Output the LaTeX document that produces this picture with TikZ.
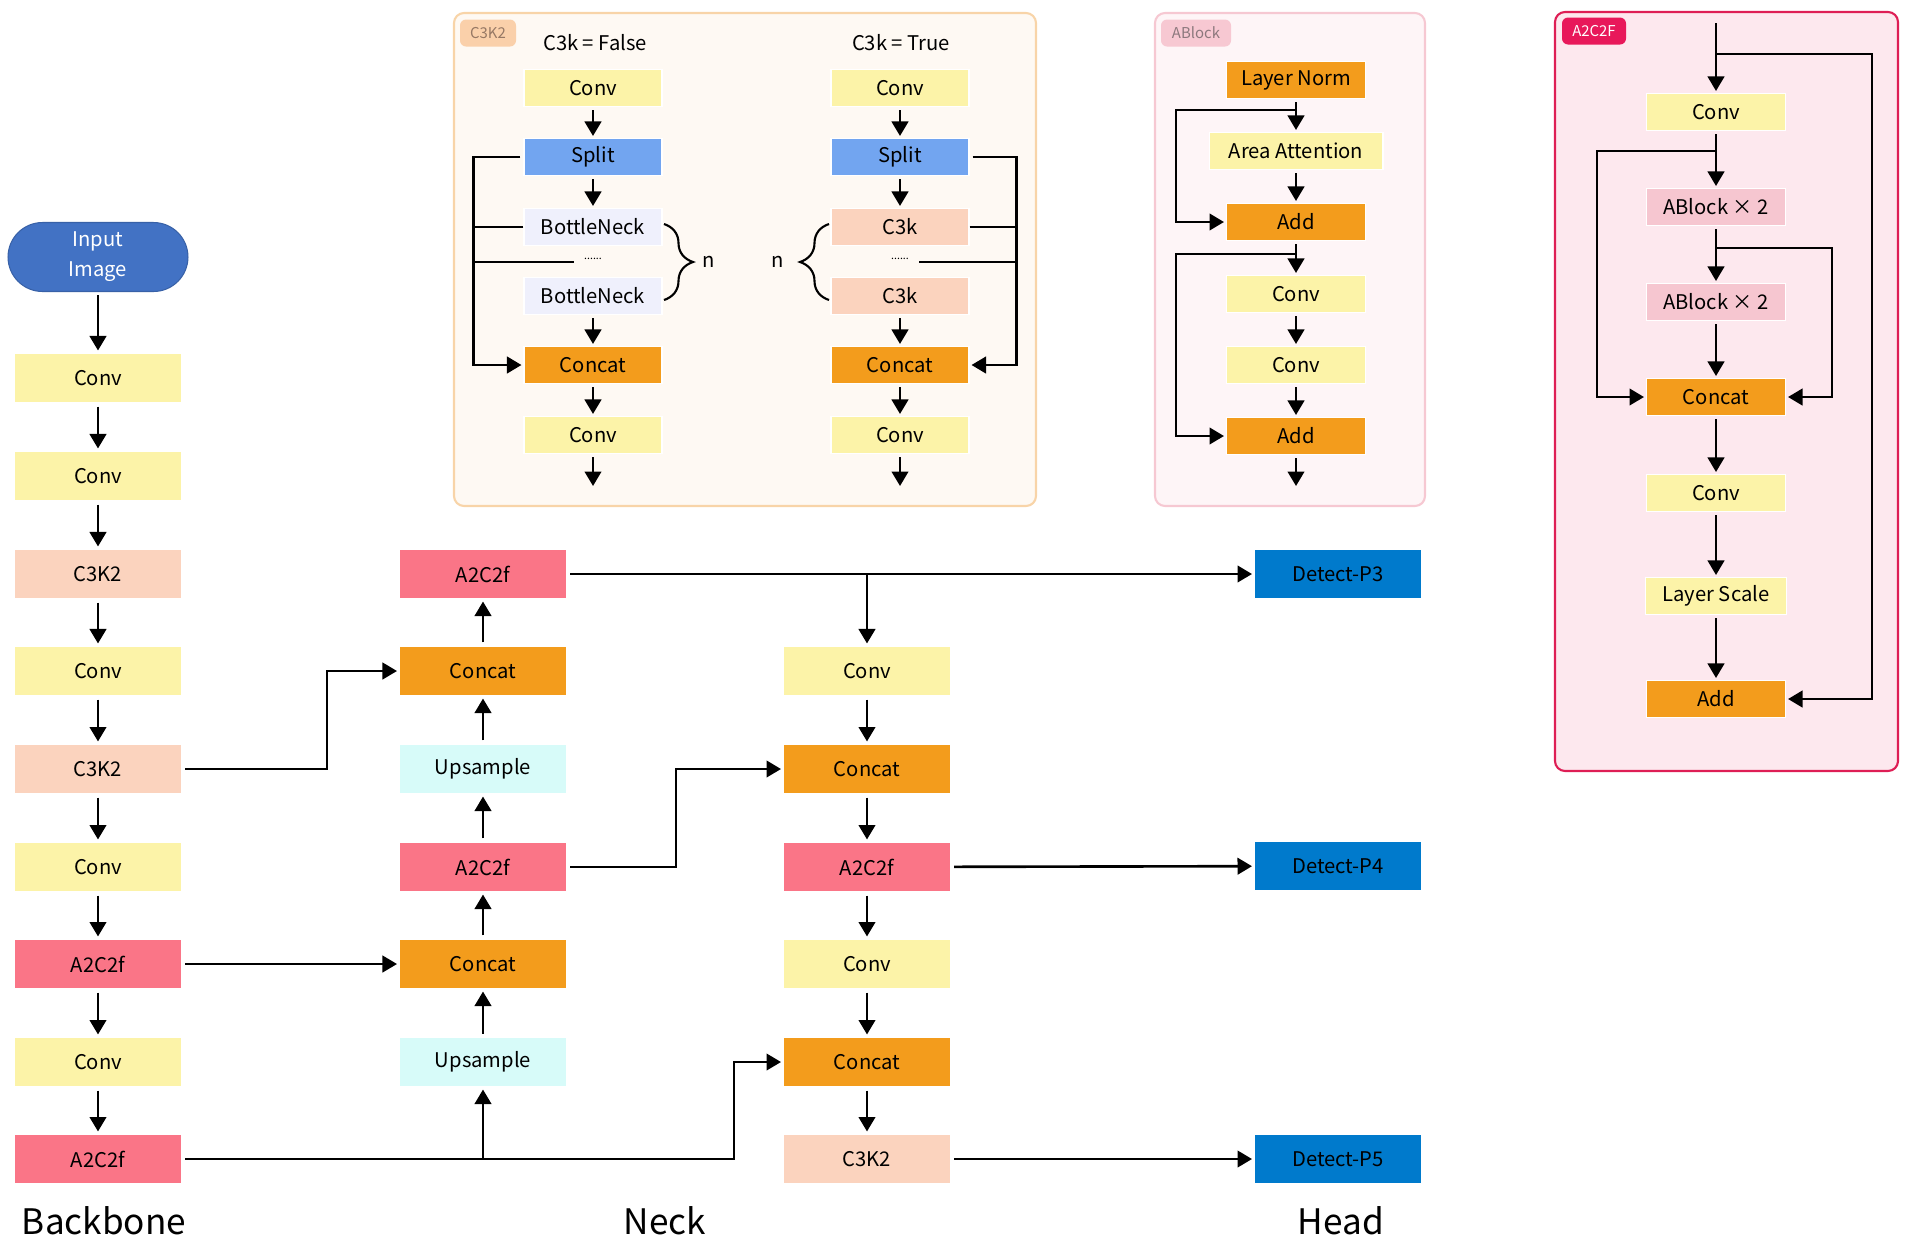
\documentclass[tikz,border=0pt]{standalone}
\usepackage{fontspec}
\setmainfont{Noto Sans CJK SC}
\usetikzlibrary{arrows.meta, positioning, decorations.pathreplacing}

\definecolor{inpc}{RGB}{66,114,196}
\definecolor{convc}{RGB}{252,243,168}
\definecolor{c3kc}{RGB}{251,211,190}
\definecolor{a2cc}{RGB}{250,117,135}
\definecolor{catc}{RGB}{243,156,28}
\definecolor{upc}{RGB}{215,251,249}
\definecolor{detc}{RGB}{0,122,204}
\definecolor{splc}{RGB}{114,165,240}
\definecolor{bnc}{RGB}{239,240,252}
\definecolor{abc}{RGB}{246,198,208}
\definecolor{c3kbg}{RGB}{254,249,243}
\definecolor{c3kline}{RGB}{248,212,168}
\definecolor{c3ktag}{RGB}{250,208,170}
\definecolor{c3ktagtext}{RGB}{150,120,100}
\definecolor{abbg}{RGB}{254,245,247}
\definecolor{abline}{RGB}{246,200,210}
\definecolor{abtag}{RGB}{247,200,210}
\definecolor{abtagtext}{RGB}{140,120,125}
\definecolor{a2bg}{RGB}{253,232,238}
\definecolor{a2line}{RGB}{222,30,85}
\definecolor{a2tag}{RGB}{232,24,90}

\tikzset{
    box/.style={minimum width=3.34cm, minimum height=1cm, inner sep=0pt, draw=white, line width=0.6pt, font=\fontsize{11.5}{13}\selectfont},
    sbox/.style={box, minimum width=2.76cm, minimum height=0.74cm},
    conv/.style={fill=convc}, c3k/.style={fill=c3kc}, a2c/.style={fill=a2cc},
    cat/.style={fill=catc}, ups/.style={fill=upc}, det/.style={fill=detc},
    spl/.style={fill=splc}, bneck/.style={fill=bnc}, ablk/.style={fill=abc},
    arr/.style={-{Triangle[length=0.29cm,width=0.33cm]}, line width=1.5pt, shorten <=0.06cm, shorten >=0.04cm},
    wire/.style={line width=1.5pt},
    panel/.style={rounded corners=0.2cm, line width=1.2pt},
    tag/.style={rounded corners=0.12cm, inner sep=0pt, minimum height=0.54cm, font=\fontsize{8.5}{10}\selectfont},
    title/.style={font=\fontsize{11.5}{13}\selectfont},
    stage/.style={font=\fontsize{20}{24}\selectfont}
}

\begin{document}
\begin{tikzpicture}[x=0.02cm, y=-0.02cm]
    \useasboundingbox (0,0) rectangle (1920,1259);

    % Backbone
    \node[box, rounded corners=0.69cm, minimum width=3.6cm, minimum height=1.38cm, fill=inpc, draw=inpc!85!black, text=white, align=center, font=\fontsize{11.5}{17}\selectfont] (inp) at (98,257) {Input\\Image};
    \node[box, conv] (b1) at (98,378) {Conv};
    \node[box, conv] (b2) at (98,476) {Conv};
    \node[box, c3k] (b3) at (98,574) {C3K2};
    \node[box, conv] (b4) at (98,671) {Conv};
    \node[box, c3k] (b5) at (98,769) {C3K2};
    \node[box, conv] (b6) at (98,867) {Conv};
    \node[box, a2c] (b7) at (98,964) {A2C2f};
    \node[box, conv] (b8) at (98,1062) {Conv};
    \node[box, a2c] (b9) at (98,1159) {A2C2f};

    \draw[arr] (inp) -- (b1);
    \draw[arr] (b1) -- (b2);
    \draw[arr] (b2) -- (b3);
    \draw[arr] (b3) -- (b4);
    \draw[arr] (b4) -- (b5);
    \draw[arr] (b5) -- (b6);
    \draw[arr] (b6) -- (b7);
    \draw[arr] (b7) -- (b8);
    \draw[arr] (b8) -- (b9);

    % Neck, upward path
    \node[box, a2c] (n1a) at (483,574) {A2C2f};
    \node[box, cat] (n1b) at (483,671) {Concat};
    \node[box, ups] (n1c) at (483,769) {Upsample};
    \node[box, a2c] (n1d) at (483,867) {A2C2f};
    \node[box, cat] (n1e) at (483,964) {Concat};
    \node[box, ups] (n1f) at (483,1062) {Upsample};

    % Neck, downward path
    \node[box, conv] (n2a) at (867,671) {Conv};
    \node[box, cat] (n2b) at (867,769) {Concat};
    \node[box, a2c] (n2c) at (867,867) {A2C2f};
    \node[box, conv] (n2d) at (867,964) {Conv};
    \node[box, cat] (n2e) at (867,1062) {Concat};
    \node[box, c3k] (n2f) at (867,1159) {C3K2};

    % Head
    \node[box, det] (h3) at (1338,574) {Detect-P3};
    \node[box, det] (h4) at (1338,866) {Detect-P4};
    \node[box, det] (h5) at (1338,1159) {Detect-P5};

    \draw[arr] (n1f) -- (n1e);
    \draw[arr] (n1e) -- (n1d);
    \draw[arr] (n1d) -- (n1c);
    \draw[arr] (n1c) -- (n1b);
    \draw[arr] (n1b) -- (n1a);

    \draw[arr] (n2a) -- (n2b);
    \draw[arr] (n2b) -- (n2c);
    \draw[arr] (n2c) -- (n2d);
    \draw[arr] (n2d) -- (n2e);
    \draw[arr] (n2e) -- (n2f);

    \draw[arr] (b5.east) -- ++(145,0) |- (n1b.west);
    \draw[arr] (b7) -- (n1e);
    \draw[arr] (b9.east) -- ++(552,0) |- (n2e.west);
    \draw[arr, shorten <=0pt] (b9.east -| n1f) -- (n1f);
    \draw[arr] (n1a) -- (h3);
    \draw[arr, shorten <=0pt] (n1a.east -| n2a) -- (n2a);
    \draw[arr] (n1d.east) -- ++(109,0) |- (n2b.west);
    \draw[arr] (n2c) -- (h4);
    \draw[arr] (n2f) -- (h5);

    \node[stage] (lb) at (104,1221) {Backbone};
    \node[stage] (ln) at (665,1221) {Neck};
    \node[stage] (lh) at (1341,1221) {Head};

    % C3K2 panel
    \draw[panel, draw=c3kline, fill=c3kbg] (454,13) rectangle (1036,506);
    \node[tag, fill=c3ktag, text=c3ktagtext, minimum width=1.12cm] (t1) at (488,33) {C3K2};
    \node[title] (f0) at (595,43) {C3k = False};
    \node[sbox, conv] (k1) at (593,88) {Conv};
    \node[sbox, spl] (k2) at (593,157) {Split};
    \node[sbox, bneck] (k3) at (593,227) {BottleNeck};
    \node[minimum width=0.76cm, inner sep=0pt, font=\fontsize{6}{6}\selectfont] (kd) at (593,259) {......};
    \node[sbox, bneck] (k4) at (593,296) {BottleNeck};
    \node[sbox, cat] (k5) at (593,365) {Concat};
    \node[sbox, conv] (k6) at (593,435) {Conv};
    \coordinate (ko) at (593,488);
    \draw[arr] (k1) -- (k2);
    \draw[arr] (k2) -- (k3);
    \draw[arr] (k4) -- (k5);
    \draw[arr] (k5) -- (k6);
    \draw[arr] (k6) -- (ko);
    \draw[arr] (k2.west) -- ++(-50,0) coordinate (kl) |- (k5.west);
    \draw[wire] (k3.west) -- (k3.west -| kl);
    \draw[wire] (kd.west |- 0,262) -- (kl |- 0,262);
    \draw[decorate, decoration={brace, amplitude=0.58cm}, line width=1.2pt] (664,224) -- (664,300);
    \node[title] (kn) at (709,262) {n};

    \node[title] (t0) at (901,43) {C3k = True};
    \node[sbox, conv] (q1) at (900,88) {Conv};
    \node[sbox, spl] (q2) at (900,157) {Split};
    \node[sbox, c3k] (q3) at (900,227) {C3k};
    \node[minimum width=0.76cm, inner sep=0pt, font=\fontsize{6}{6}\selectfont] (qd) at (900,259) {......};
    \node[sbox, c3k] (q4) at (900,296) {C3k};
    \node[sbox, cat] (q5) at (900,365) {Concat};
    \node[sbox, conv] (q6) at (900,435) {Conv};
    \coordinate (qo) at (900,488);
    \draw[arr] (q1) -- (q2);
    \draw[arr] (q2) -- (q3);
    \draw[arr] (q4) -- (q5);
    \draw[arr] (q5) -- (q6);
    \draw[arr] (q6) -- (qo);
    \draw[arr] (q2.east) -- ++(47,0) coordinate (kr) |- (q5.east);
    \draw[wire] (q3.east) -- (q3.east -| kr);
    \draw[wire] (qd.east |- 0,262) -- (kr |- 0,262);
    \draw[decorate, decoration={brace, amplitude=0.58cm}, line width=1.2pt] (829,300) -- (829,224);
    \node[title] (qn) at (778,262) {n};

    % ABlock panel
    \draw[panel, draw=abline, fill=abbg] (1155,13) rectangle (1425,506);
    \node[tag, fill=abtag, text=abtagtext, minimum width=1.4cm] (t2) at (1196,33) {ABlock};
    \node[sbox, cat, minimum width=2.78cm] (a1) at (1296,80) {Layer Norm};
    \node[sbox, conv, minimum width=3.48cm] (a2) at (1296,151) {Area Attention};
    \node[sbox, cat, minimum width=2.78cm] (a3) at (1296,222) {Add};
    \node[sbox, conv, minimum width=2.78cm] (a4) at (1296,294) {Conv};
    \node[sbox, conv, minimum width=2.78cm] (a5) at (1296,365) {Conv};
    \node[sbox, cat, minimum width=2.78cm] (a6) at (1296,436) {Add};
    \coordinate (ao) at (1296,488);
    \coordinate (as1) at (1296,110);
    \coordinate (as2) at (1296,254);
    \draw[arr] (a1) -- (a2);
    \draw[arr] (a2) -- (a3);
    \draw[arr] (a3) -- (a4);
    \draw[arr] (a4) -- (a5);
    \draw[arr] (a5) -- (a6);
    \draw[arr] (a6) -- (ao);
    \draw[arr, shorten <=0pt] (as1) -- ++(-120,0) |- (a3.west);
    \draw[arr, shorten <=0pt] (as2) -- ++(-120,0) |- (a6.west);

    % A2C2F panel
    \draw[panel, draw=a2line, fill=a2bg] (1555,12) rectangle (1898,771);
    \node[tag, fill=a2tag, text=white, minimum width=1.28cm] (t3) at (1594,31) {A2C2F};
    \node[sbox, conv, minimum width=2.78cm] (c1) at (1716,112) {Conv};
    \node[sbox, ablk, minimum width=2.78cm] (c2) at (1716,207) {ABlock × 2};
    \node[sbox, ablk, minimum width=2.78cm] (c3) at (1716,302) {ABlock × 2};
    \node[sbox, cat, minimum width=2.78cm] (c4) at (1716,397) {Concat};
    \node[sbox, conv, minimum width=2.78cm] (c5) at (1716,493) {Conv};
    \node[sbox, conv, minimum width=2.82cm] (c6) at (1716,596) {Layer Scale};
    \node[sbox, cat, minimum width=2.78cm] (c7) at (1716,699) {Add};
    \coordinate (cin) at (1716,23);
    \coordinate (cs0) at (1716,54);
    \coordinate (cs1) at (1716,151);
    \coordinate (cs2) at (1716,248);
    \draw[arr, shorten <=0pt] (cin) -- (c1);
    \draw[arr] (c1) -- (c2);
    \draw[arr] (c2) -- (c3);
    \draw[arr] (c3) -- (c4);
    \draw[arr] (c4) -- (c5);
    \draw[arr] (c5) -- (c6);
    \draw[arr] (c6) -- (c7);
    \draw[arr, shorten <=0pt] (cs0) -- ++(156,0) |- (c7.east);
    \draw[arr, shorten <=0pt] (cs1) -- ++(-119,0) |- (c4.west);
    \draw[arr, shorten <=0pt] (cs2) -- ++(116,0) |- (c4.east);
\end{tikzpicture}
\end{document}
